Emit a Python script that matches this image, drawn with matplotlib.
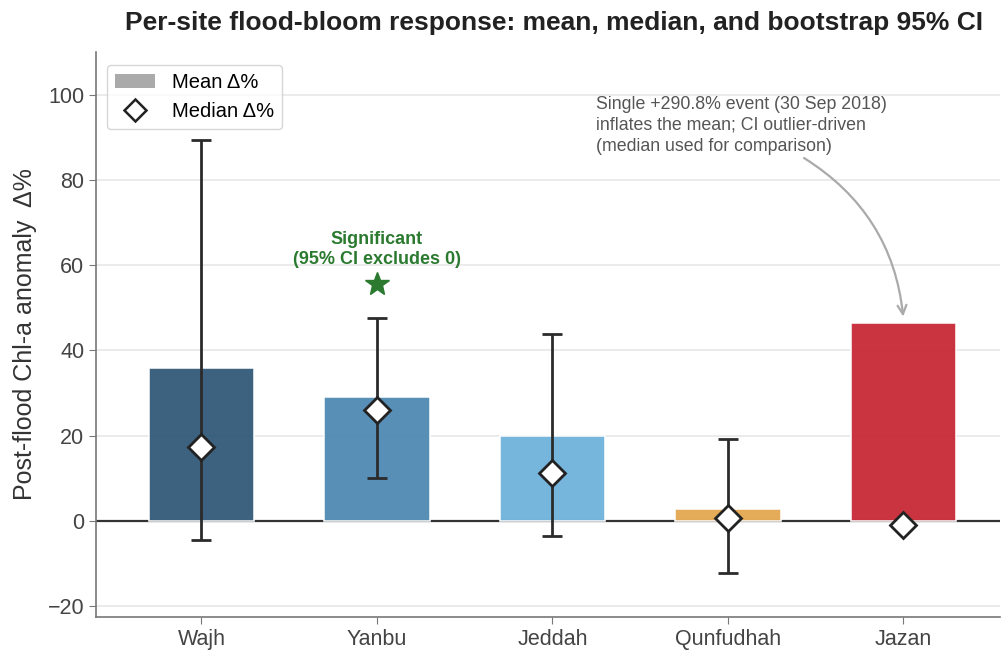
import matplotlib
matplotlib.use("Agg")
import matplotlib.pyplot as plt
from matplotlib.patches import Patch
from matplotlib.lines import Line2D
import numpy as np

plt.rcParams['font.family'] = ['Liberation Sans', 'DejaVu Sans']

sites = ["Wajh", "Yanbu", "Jeddah", "Qunfudhah", "Jazan"]
mean_pct = [36.0, 29.0, 20.0, 2.9, 46.5]
median_pct = [17.3, 26.0, 11.3, 0.8, -0.9]
ci_low = [-4.5, 10.1, -3.6, -12.3, np.nan]
ci_high = [89.3, 47.7, 43.9, 19.2, np.nan]
colors = ["#2b5575", "#4a86b0", "#6aafd9", "#e2a44a", "#c6222f"]

x = np.arange(len(sites))

fig = plt.figure(figsize=(10.02, 6.52), dpi=100)
ax = fig.add_axes([0.096, 0.054, 0.902, 0.866])

ax.axhline(0, color="#333333", lw=1.6, zorder=1)
ax.bar(x, mean_pct, width=0.6, color=colors, alpha=0.92, edgecolor="white",
       linewidth=1.2, zorder=2)

lo = np.array(median_pct) - np.array(ci_low)
hi = np.array(ci_high) - np.array(median_pct)
ax.errorbar(x, median_pct, yerr=[lo, hi], fmt="none", ecolor="#2b2b2b",
            elinewidth=2, capsize=7.5, capthick=2, zorder=3)
ax.plot(x, median_pct, linestyle="none", marker="D", markersize=13.5,
        markerfacecolor="white", markeredgecolor="#222222", markeredgewidth=2,
        zorder=4)

# significance flag for Yanbu
ax.plot(1, 55.5, marker="*", markersize=18, color="#2b7a30", zorder=5)
ax.text(1, 59.3, "Significant\n(95% CI excludes 0)", ha="center", va="bottom",
        fontsize=13, fontweight="bold", color="#2b7a30", linespacing=1.25)

# outlier note for Jazan
ax.text(2.25, 99.8, "Single +290.8% event (30 Sep 2018)\ninflates the mean; CI outlier-driven\n(median used for comparison)",
        ha="left", va="top", fontsize=12.8, color="#555555", linespacing=1.32)
ax.annotate("", xy=(4.0, 47.3), xytext=(3.42, 85.5),
            arrowprops=dict(arrowstyle="->", color="#aaaaaa", lw=1.6,
                            connectionstyle="arc3,rad=-0.25", mutation_scale=16))

ax.set_xlim(-0.6, 4.55)
ax.set_ylim(-22.5, 110)
ax.set_yticks([-20, 0, 20, 40, 60, 80, 100])
ax.set_xticks(x)
ax.set_xticklabels(sites)
ax.tick_params(axis="both", labelsize=15.5, colors="#444444", length=5, color="#777777")
ax.set_ylabel("Post-flood Chl-a anomaly  Δ%", fontsize=18, color="#333333", labelpad=8)

ax.yaxis.grid(True, color="#e6e6e6", lw=1.1, zorder=0)
ax.set_axisbelow(True)
for s in ["top", "right"]:
    ax.spines[s].set_visible(False)
for s in ["left", "bottom"]:
    ax.spines[s].set_color("#777777")
    ax.spines[s].set_linewidth(1.2)

handles = [Patch(facecolor="#aaaaaa", label="Mean Δ%"),
           Line2D([], [], linestyle="none", marker="D", markersize=11,
                  markerfacecolor="white", markeredgecolor="#222222",
                  markeredgewidth=1.8, label="Median Δ%")]
leg = ax.legend(handles=handles, loc="upper left", fontsize=14.5, frameon=True,
                borderpad=0.4, handlelength=2.0, labelspacing=0.5,
                bbox_to_anchor=(0.001, 0.995))
leg.get_frame().set_edgecolor("#cccccc")

fig.suptitle("Per-site flood-bloom response: mean, median, and bootstrap 95% CI",
             x=0.553, y=0.983, fontsize=19, fontweight="bold", color="#222222")

fig.savefig("out.png", dpi=100)
